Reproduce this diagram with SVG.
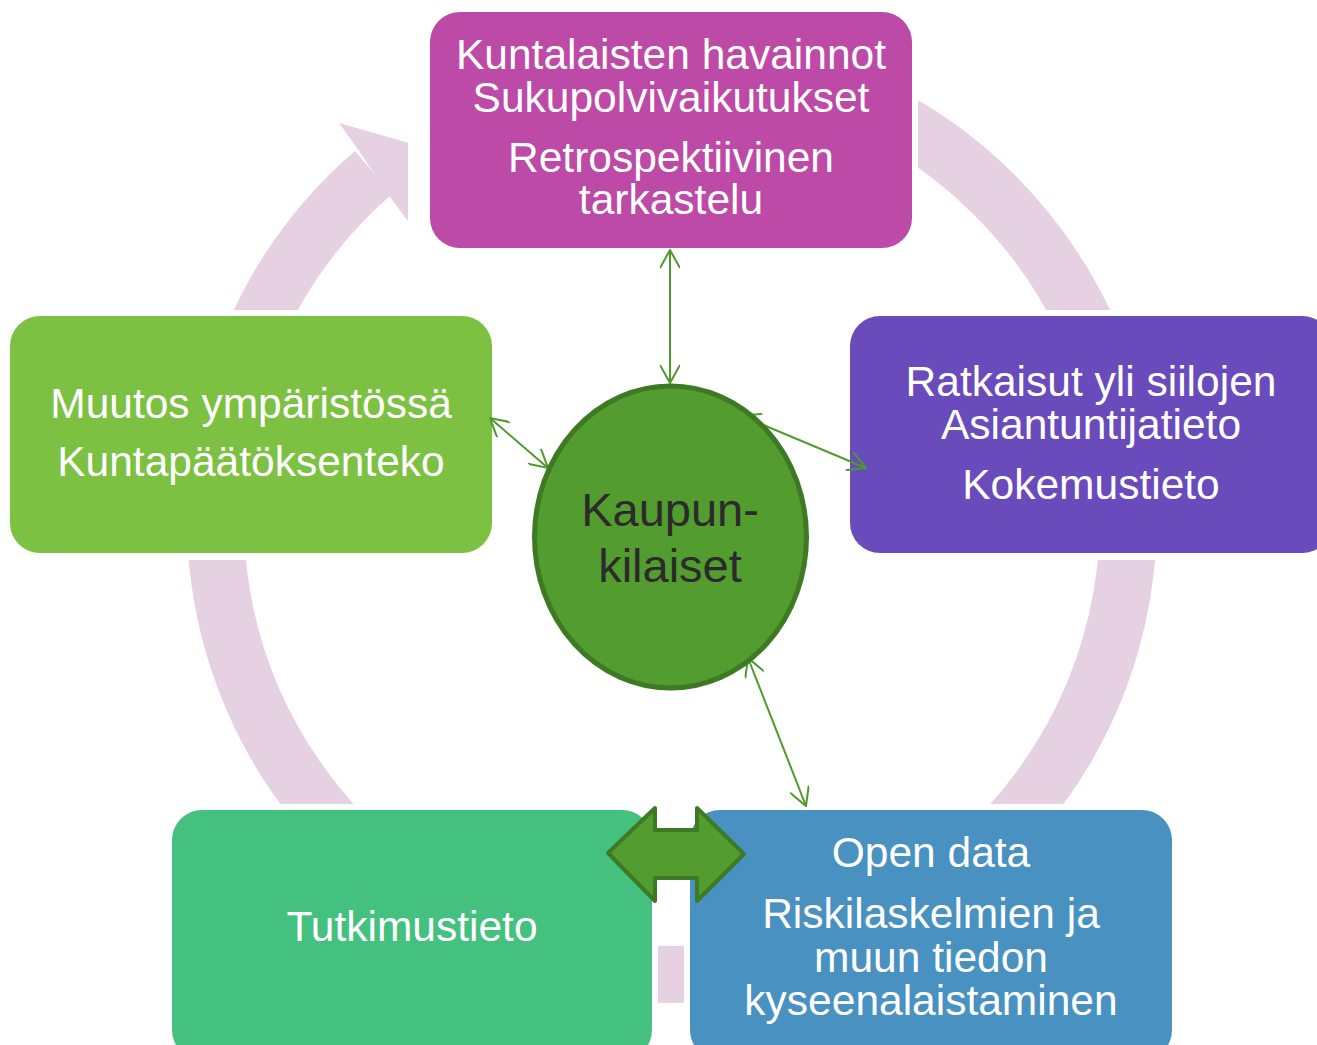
<svg xmlns="http://www.w3.org/2000/svg" width="1317" height="1045" viewBox="0 0 1317 1045">
  <style>
    .lbl { font-family: "Liberation Sans", Arial, sans-serif; font-size: 42.5px; fill: #ffffff; text-anchor: middle; }
    .ctr { font-family: "Liberation Sans", Arial, sans-serif; font-size: 47px; fill: #2b2b2b; text-anchor: middle; }
    .conn { stroke: #4E9A2E; stroke-width: 2; fill: none; marker-start: url(#ah); marker-end: url(#ah); }
  </style>
  <defs>
    <marker id="ah" viewBox="0 0 20 20" refX="19" refY="10" markerWidth="20" markerHeight="20" markerUnits="userSpaceOnUse" orient="auto-start-reverse">
      <path d="M1,0 L19,10 L1,20" fill="none" stroke="#4E9A2E" stroke-width="2"/>
    </marker>
    <mask id="ringMask" maskUnits="userSpaceOnUse" x="0" y="0" width="1317" height="1045">
      <rect x="0" y="0" width="1317" height="1045" fill="#fff"/>
      <rect x="408" y="0" width="510" height="254" fill="#000"/>
      <rect x="844" y="310" width="480" height="250" fill="#000"/>
      <rect x="0" y="310" width="498" height="250" fill="#000"/>
      <rect x="166" y="804" width="492" height="250" fill="#000"/>
      <rect x="684" y="804" width="500" height="250" fill="#000"/>
    </mask>
  </defs>
  <rect width="1317" height="1045" fill="#ffffff"/>

  <g id="cycle" mask="url(#ringMask)" fill="#E6D1E3">
    <path d="M373.5,172.5 A456.5,456.5 0 1 0 592.7,68.4" fill="none" stroke="#E6D1E3" stroke-width="57"/>
    <polygon points="357,148 339,123 430,149 430,251 390,197"/>
  </g>

  <g id="node-top">
    <rect x="430" y="12" width="482" height="236" rx="30" fill="#BC4AA6"/>
    <text class="lbl" x="671" y="69">Kuntalaisten havainnot</text>
    <text class="lbl" x="671" y="112">Sukupolvivaikutukset</text>
    <text class="lbl" x="671" y="172">Retrospektiivinen</text>
    <text class="lbl" x="671" y="214">tarkastelu</text>
  </g>

  <g id="node-right">
    <rect x="850" y="316" width="482" height="237" rx="30" fill="#6A4BBB"/>
    <text class="lbl" x="1091" y="396">Ratkaisut yli siilojen</text>
    <text class="lbl" x="1091" y="439">Asiantuntijatieto</text>
    <text class="lbl" x="1091" y="499">Kokemustieto</text>
  </g>

  <g id="node-left">
    <rect x="10" y="316" width="482" height="237" rx="30" fill="#7DC143"/>
    <text class="lbl" x="251" y="418">Muutos ympäristössä</text>
    <text class="lbl" x="251" y="476">Kuntapäätöksenteko</text>
  </g>

  <g id="node-bottom-left">
    <rect x="172" y="810" width="480" height="250" rx="30" fill="#45C17F"/>
    <text class="lbl" x="412" y="941">Tutkimustieto</text>
  </g>

  <g id="node-bottom-right">
    <rect x="690" y="810" width="482" height="250" rx="30" fill="#4891C0"/>
    <text class="lbl" x="931" y="867">Open data</text>
    <text class="lbl" x="931" y="928">Riskilaskelmien ja</text>
    <text class="lbl" x="931" y="972">muun tiedon</text>
    <text class="lbl" x="931" y="1015">kyseenalaistaminen</text>
  </g>

  <g id="connectors">
    <line class="conn" x1="670" y1="383" x2="670" y2="250"/>
    <line class="conn" x1="548" y1="468" x2="490" y2="418"/>
    <line class="conn" x1="742" y1="416" x2="866" y2="468"/>
    <line class="conn" x1="748" y1="658" x2="806" y2="806"/>
    <polygon id="double-arrow" points="608,853 655,808 655,830 697,830 697,808 744,854 697,901 697,878 655,878 655,901" fill="#529C30" stroke="#3D7A23" stroke-width="4" stroke-linejoin="round"/>
  </g>

  <g id="node-center">
    <ellipse cx="670.5" cy="537" rx="136" ry="151" fill="#529C30" stroke="#3D7A23" stroke-width="5"/>
    <text class="ctr" x="670" y="526">Kaupun-</text>
    <text class="ctr" x="670" y="582">kilaiset</text>
  </g>
</svg>
